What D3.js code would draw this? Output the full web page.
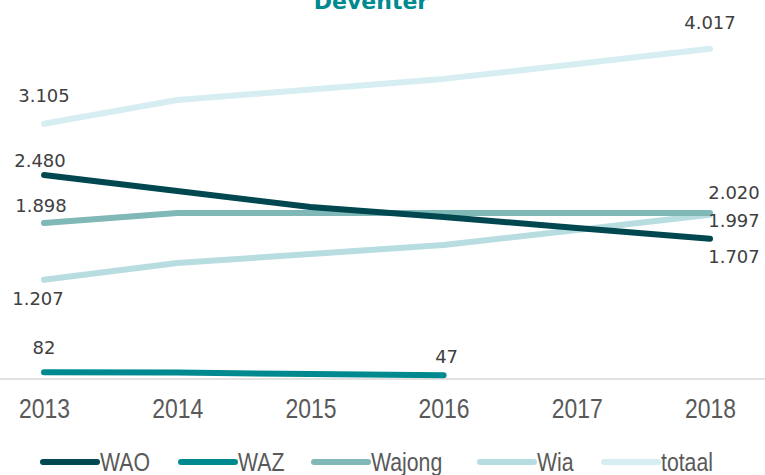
<!DOCTYPE html>
<html>
<head>
<meta charset="utf-8">
<script src="https://cdn.jsdelivr.net/npm/d3@7"></script>
<style>
  body { margin: 0; background: #fff; }
  svg { display: block; }
</style>
</head>
<body>
<div id="chart"></div>
<script>
// data
var years = ["2013", "2014", "2015", "2016", "2017", "2018"];
var wao    = [2480, 2287, 2092, 1970, 1837, 1707];
var waz    = [82, 78, 60, 47, null, null];
var wajong = [1898, 2020, 2020, 2020, 2020, 2020];
var wia    = [1207, 1411, 1520, 1630, 1813, 1997];
var totaal = [3105, 3394, 3520, 3650, 3830, 4017];
var seriesNames = ["WAO", "WAZ", "Wajong", "Wia", "totaal"];
var title = "Deventer";

var width = 765, height = 475;

var series = [
  { name: "WAO",    values: wao,    color: "#004750" },
  { name: "WAZ",    values: waz,    color: "#008A8F" },
  { name: "Wajong", values: wajong, color: "#7FB8B6" },
  { name: "Wia",    values: wia,    color: "#B8DDE1" },
  { name: "totaal", values: totaal, color: "#D6EEF2" }
];

// label placement: [index, dx, dy] relative to the point
var labelSpots = {
  "WAO":    [[0, -4, -8], [5, 24, 24]],
  "WAZ":    [[0, 0, -18], [3, 3, -12]],
  "Wajong": [[0, -3, -11], [5, 24, -14]],
  "Wia":    [[0, -6, 25], [5, 24, 12]],
  "totaal": [[0, 0, -22], [5, 0, -20]]
};

// the axis/legend font is a narrow one, squeeze Liberation Sans a bit
var narrow = 0.85;

var svg = d3.select("#chart").append("svg")
  .attr("width", width)
  .attr("height", height);

var x = d3.scalePoint()
  .domain(years)
  .range([44, 710]);

var y = d3.scaleLinear()
  .domain([0, 4500])
  .range([379, 9]);

// title, mostly cut off at the top
svg.append("text")
  .attr("x", 371)
  .attr("y", 9)
  .attr("text-anchor", "middle")
  .style("font-family", "'DejaVu Sans', sans-serif")
  .style("font-weight", "bold")
  .style("font-size", "22px")
  .style("fill", "#008A8F")
  .text(title);

// x axis
var xAxis = svg.append("g")
  .attr("transform", "translate(0," + y(0) + ")")
  .call(d3.axisBottom(x).tickSize(0).tickPadding(20));
xAxis.select(".domain").remove();
xAxis.append("line")
  .attr("x1", 0).attr("x2", width)
  .attr("stroke", "#d9d9d9")
  .attr("stroke-width", 1.5);
xAxis.selectAll(".tick text")
  .attr("transform", "scale(" + narrow + ",1)")
  .style("font-family", "'Liberation Sans Narrow', 'Liberation Sans', sans-serif")
  .style("font-size", "27px")
  .style("fill", "#595959");

var line = d3.line()
  .defined(function(d) { return d != null; })
  .x(function(d, i) { return x(years[i]); })
  .y(function(d) { return y(d); });

// draw in reverse so WAO ends up on top
svg.selectAll(".serie")
  .data(series.slice().reverse())
  .enter()
  .append("path")
    .attr("class", "serie")
    .attr("d", function(d) { return line(d.values); })
    .attr("fill", "none")
    .attr("stroke", function(d) { return d.color; })
    .attr("stroke-width", 6)
    .attr("stroke-linecap", "round")
    .attr("stroke-linejoin", "round");

var fmt = d3.format(",");
function nl(v) { return fmt(v).replace(/,/g, "."); }

series.forEach(function(s) {
  labelSpots[s.name].forEach(function(p) {
    var i = p[0];
    svg.append("text")
      .attr("x", x(years[i]) + p[1])
      .attr("y", y(s.values[i]) + p[2])
      .attr("text-anchor", "middle")
      .style("font-family", "'DejaVu Sans', sans-serif")
      .style("font-size", "18px")
      .style("fill", "#404040")
      .text(nl(s.values[i]));
  });
});

// legend
var legendX = [43, 181, 314, 480, 604];
var legend = svg.selectAll(".legend")
  .data(series)
  .enter()
  .append("g")
    .attr("class", "legend")
    .attr("transform", function(d, i) { return "translate(" + legendX[i] + ",462)"; });

legend.append("line")
  .attr("x1", 0).attr("x2", 54)
  .attr("stroke", function(d) { return d.color; })
  .attr("stroke-width", 6)
  .attr("stroke-linecap", "round");

legend.append("g")
  .attr("transform", "translate(57,9) scale(" + narrow + ",1)")
  .append("text")
  .style("font-family", "'Liberation Sans Narrow', 'Liberation Sans', sans-serif")
  .style("font-size", "25px")
  .style("fill", "#595959")
  .text(function(d, i) { return seriesNames[i]; });
</script>
</body>
</html>
